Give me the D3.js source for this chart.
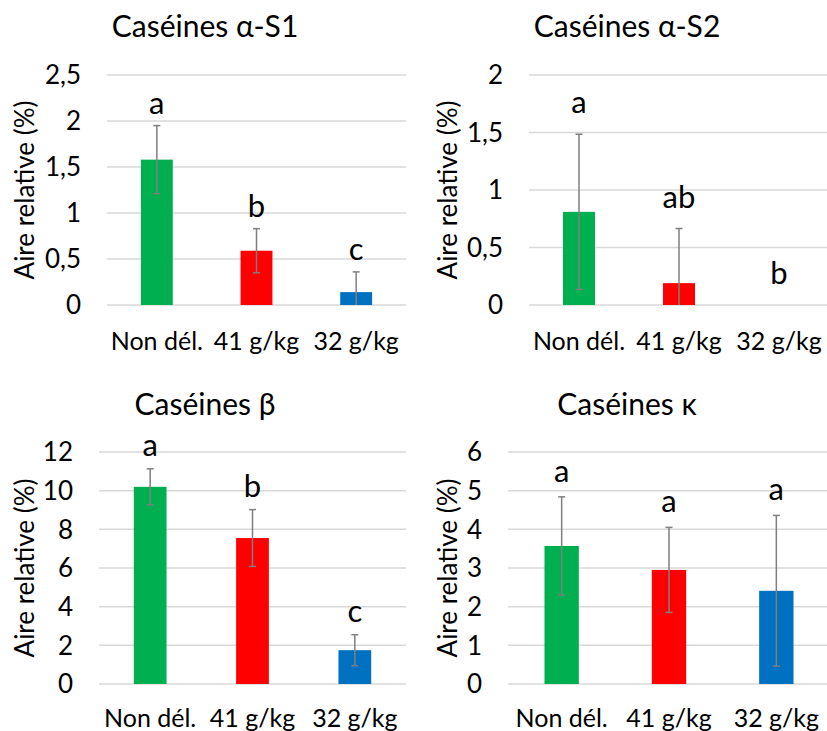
<!DOCTYPE html>
<html><head><meta charset="utf-8">
<script src="https://cdn.jsdelivr.net/npm/d3@7"></script>
<style>html,body{margin:0;padding:0;background:#fff;}svg{display:block;}</style>
</head><body>
<svg id="chart" width="827" height="731"></svg>
<script>
// ---- data ----
const categories = ["Non dél.", "41 g/kg", "32 g/kg"];
const titles = ["Caséines α-S1", "Caséines α-S2", "Caséines β", "Caséines κ"];
const yAxisLabel = "Aire relative (%)";

const meansS1 = [1.58, 0.59, 0.14];
const sdS1 = [0.37, 0.24, 0.22];
const lettersS1 = ["a", "b", "c"];
const ticksS1 = [0, 0.5, 1, 1.5, 2, 2.5];

const meansS2 = [0.81, 0.19, 0];
const sdS2 = [0.675, 0.475, 0];
const lettersS2 = ["a", "ab", "b"];
const ticksS2 = [0, 0.5, 1, 1.5, 2];

const meansB = [10.2, 7.55, 1.75];
const sdB = [0.93, 1.47, 0.8];
const lettersB = ["a", "b", "c"];
const ticksB = [0, 2, 4, 6, 8, 10, 12];

const meansK = [3.57, 2.95, 2.41];
const sdK = [1.27, 1.1, 1.95];
const lettersK = ["a", "a", "a"];
const ticksK = [0, 1, 2, 3, 4, 5, 6];

const colors = ["#00B050", "#FF0000", "#0070C0"];

// ---- layout ----
const FONT = "Lato, 'Open Sans', sans-serif";
const panels = [
  {title: titles[0], means: meansS1, sd: sdS1, letters: lettersS1, ticks: ticksS1,
   x0: 107, x1: 406, yb: 305, yt: 75, tickX: 81, axX: 25, titleX: 205, titleY: 37, catY: 350, gap: 12},
  {title: titles[1], means: meansS2, sd: sdS2, letters: lettersS2, ticks: ticksS2,
   x0: 529, x1: 829, yb: 305, yt: 75, tickX: 503, axX: 448, titleX: 627, titleY: 37, catY: 350, gap: 21},
  {title: titles[2], means: meansB, sd: sdB, letters: lettersB, ticks: ticksB,
   x0: 99, x1: 406, yb: 684, yt: 452, tickX: 73, axX: 25, titleX: 205, titleY: 415, catY: 727, gap: 13},
  {title: titles[3], means: meansK, sd: sdK, letters: lettersK, ticks: ticksK,
   x0: 508, x1: 830, yb: 684, yt: 452, tickX: 482, axX: 448, titleX: 627, titleY: 415, catY: 727, gap: 15}
];

const svg = d3.select("#chart");
const fmt = v => String(v).replace(".", ",");

panels.forEach(p => {
  const g = svg.append("g");
  const x = d3.scaleBand().domain(categories).range([p.x0, p.x1])
    .paddingInner(0.68).paddingOuter(0.34);
  const y = d3.scaleLinear().domain([0, d3.max(p.ticks)]).range([p.yb, p.yt]);

  // gridlines
  g.selectAll("line.grid").data(p.ticks).join("line")
    .attr("x1", p.x0).attr("x2", p.x1)
    .attr("y1", d => y(d)).attr("y2", d => y(d))
    .attr("stroke", "#d9d9d9").attr("stroke-width", 1.5);

  // tick labels
  g.selectAll("text.tick").data(p.ticks).join("text")
    .attr("x", p.tickX).attr("y", d => y(d)).attr("dy", "0.36em")
    .attr("text-anchor", "end")
    .attr("font-family", FONT).attr("font-size", 26).attr("fill", "#000")
    .text(fmt);

  // bars
  const data = categories.map((c, i) => ({c, m: p.means[i], s: p.sd[i], l: p.letters[i], col: colors[i]}));
  g.selectAll("rect.bar").data(data.filter(d => d.m > 0)).join("rect")
    .attr("x", d => x(d.c)).attr("width", x.bandwidth())
    .attr("y", d => y(d.m)).attr("height", d => y(0) - y(d.m))
    .attr("fill", d => d.col);

  // error bars
  const eb = data.filter(d => d.s > 0);
  const cx = d => x(d.c) + x.bandwidth() / 2;
  const lo = d => Math.max(0, d.m - d.s);
  g.selectAll("line.err").data(eb).join("line")
    .attr("x1", cx).attr("x2", cx)
    .attr("y1", d => y(d.m + d.s)).attr("y2", d => y(lo(d)))
    .attr("stroke", "#7f7f7f").attr("stroke-width", 1.5);
  g.selectAll("line.capT").data(eb).join("line")
    .attr("x1", d => cx(d) - 3.5).attr("x2", d => cx(d) + 3.5)
    .attr("y1", d => y(d.m + d.s)).attr("y2", d => y(d.m + d.s))
    .attr("stroke", "#7f7f7f").attr("stroke-width", 1.5);
  g.selectAll("line.capB").data(eb.filter(d => d.m - d.s > 0)).join("line")
    .attr("x1", d => cx(d) - 3.5).attr("x2", d => cx(d) + 3.5)
    .attr("y1", d => y(lo(d))).attr("y2", d => y(lo(d)))
    .attr("stroke", "#7f7f7f").attr("stroke-width", 1.5);

  // significance letters
  g.selectAll("text.letter").data(data).join("text")
    .attr("x", cx).attr("y", d => y(d.m + d.s) - p.gap)
    .attr("text-anchor", "middle")
    .attr("font-family", FONT).attr("font-size", 31).attr("fill", "#000")
    .text(d => d.l);

  // category labels
  g.selectAll("text.cat").data(categories).join("text")
    .attr("x", d => x(d) + x.bandwidth() / 2).attr("y", p.catY)
    .attr("text-anchor", "middle")
    .attr("font-family", FONT).attr("font-size", 25).attr("fill", "#000")
    .text(d => d);

  // title
  g.append("text").attr("x", p.titleX).attr("y", p.titleY)
    .attr("text-anchor", "middle")
    .attr("font-family", FONT).attr("font-size", 30).attr("fill", "#000")
    .text(p.title);

  // y axis label
  g.append("text")
    .attr("transform", `translate(${p.axX},${(p.yb + p.yt) / 2}) rotate(-90)`)
    .attr("dy", "0.36em")
    .attr("text-anchor", "middle")
    .attr("font-family", FONT).attr("font-size", 26).attr("fill", "#000")
    .text(yAxisLabel);
});
</script>
</body></html>
